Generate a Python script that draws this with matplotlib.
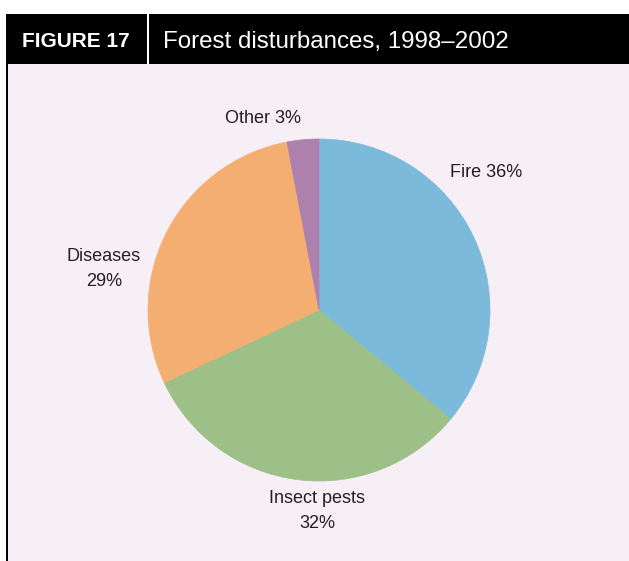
import matplotlib.pyplot as plt
from matplotlib.patches import Rectangle

# forest disturbance shares, 1998-2002 (percent)
categories = ["Fire", "Insect pests", "Diseases", "Other"]
shares = [36, 32, 29, 3]
colors = ["#7bbada", "#9dbf88", "#f5ae72", "#ae80ad"]

W, H = 629, 561
BG = "#f6eff6"
TXT = "#231f20"
plt.rcParams['font.family'] = ['Liberation Sans', 'DejaVu Sans']

fig = plt.figure(figsize=(W / 100, H / 100), dpi=100)
fig.patch.set_facecolor("white")


def box(x, y, w, h, color):
    # rectangle in figure pixels, y measured from the top
    fig.add_artist(Rectangle((x / W, 1 - (y + h) / H), w / W, h / H, zorder=-5,
                             transform=fig.transFigure, facecolor=color, edgecolor="none"))


# frame: pink panel, black header bar, left rule, header divider
box(6, 64, W - 6, H - 64, BG)
box(6, 14, W - 6, 50, "black")
box(6, 64, 1.6, H - 64, "black")
box(147, 14, 1.6, 50, "white")

fig.text(22 / W, 1 - 47 / H, "FIGURE 17", color="white", fontsize=15,
         fontweight="bold", va="baseline", ha="left")
fig.text(163 / W, 1 - 48 / H, "Forest disturbances, 1998\u20132002", color="white",
         fontsize=17.4, va="baseline", ha="left")

# pie: centre (319, 310) px from top-left, radius 171 px
cx, cy, r = 319, H - 310, 171
half = 230
ax = fig.add_axes([(cx - half) / W, (cy - half) / H, 2 * half / W, 2 * half / H])

wedges, _ = ax.pie(shares, colors=colors, startangle=90, counterclock=False,
                   radius=1, wedgeprops=dict(linewidth=0.5))
for w, c in zip(wedges, colors):
    w.set_edgecolor(c)

ax.set_xlim(-half / r, half / r)
ax.set_ylim(-half / r, half / r)
ax.set_aspect("equal")
ax.axis("off")


def px(x, y):
    # figure pixel (from top-left) -> pie data units
    return (x - 319) / r, (310 - y) / r


kw = dict(fontsize=13, color=TXT, linespacing=1.65)
ax.text(*px(450, 172), f"{categories[0]} {shares[0]}%", ha="left", va="center", **kw)
ax.text(*px(317, 511), f"{categories[1]}\n{shares[1]}%", ha="center", va="center", **kw)
ax.text(*px(104, 269), f"{categories[2]}\n{shares[2]}%", ha="center", va="center", **kw)
ax.text(*px(263, 118), f"{categories[3]} {shares[3]}%", ha="center", va="center", **kw)

fig.savefig("out.png", dpi=100, facecolor=fig.get_facecolor())
